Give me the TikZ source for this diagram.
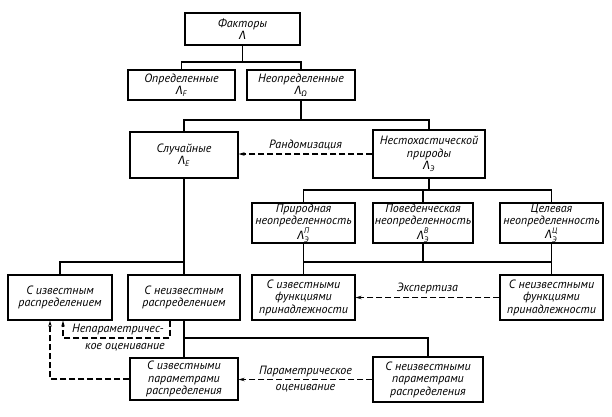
\documentclass[tikz,border=0pt]{standalone}
\usepackage{fontspec}
\usepackage{amsmath}
\setmainfont{PT Sans}
\newfontfamily\grk{Fira Sans}
\usetikzlibrary{arrows.meta}
\newcommand\LamS[1]{$\text{\grk Λ}_{\text{#1}}$}
\newcommand\LamSS[2]{$\text{\grk Λ}_{\text{#1}}^{\text{#2}}$}
\tikzset{
  box/.style={draw, line width=1.1pt, inner sep=0pt, align=center,
    font=\itshape\fontsize{12}{12.5}\selectfont},
  conn/.style={line width=1.1pt},
  dasharr/.style={line width=1.1pt, dash pattern=on 6pt off 3pt,
    -{Stealth[length=6pt,width=3.5pt]}},
  lbl/.style={font=\itshape\fontsize{12}{12.5}\selectfont, inner sep=1pt}
}
\begin{document}
\begin{tikzpicture}[x=1pt,y=-1pt]
\useasboundingbox (0,0) rectangle (612,416);
% boxes
\node[box, minimum width=115pt, minimum height=32pt] (fakt) at (242.5,29) {Факторы\\ \text{\grk Λ}};
\node[box, minimum width=107pt, minimum height=30pt] (opr) at (181.5,85) {Определенные\\ \LamS{F}};
\node[box, minimum width=108pt, minimum height=30pt] (neopr) at (301,85) {Неопределенные\\ \LamS{\grk Ω}};
\node[box, minimum width=108pt, minimum height=46pt] (sluch) at (184,155) {Случайные\\ \LamS{E}};
\node[box, minimum width=112pt, minimum height=48pt] (nestoch) at (429,154) {Нестохастической\\ природы\\ \LamS{Э}};
\node[box, minimum width=103pt, minimum height=40pt] (prir) at (303.5,223) {Природная\\ неопределенность\\ \LamSS{Э}{П}};
\node[box, minimum width=100pt, minimum height=40pt] (poved) at (423,223) {Поведенческая\\ неопределенность\\ \LamSS{Э}{В}};
\node[box, minimum width=103pt, minimum height=40pt] (cel) at (551.5,223) {Целевая\\ неопределенность\\ \LamSS{Э}{Ц}};
\node[box, minimum width=103pt, minimum height=45pt] (izvfun) at (303.5,297.5) {С известными\\ функциями\\ принадлежности};
\node[box, minimum width=103pt, minimum height=45pt] (neizvfun) at (551.5,297.5) {С неизвестными\\ функциями\\ принадлежности};
\node[box, minimum width=104pt, minimum height=45pt] (izvrasp) at (60,297.5) {С известным\\ распределением};
\node[box, minimum width=112pt, minimum height=45pt] (neizvrasp) at (184,297.5) {С неизвестным\\ распределением};
\node[box, minimum width=108pt, minimum height=42pt] (izvpar) at (184,379) {С известными\\ параметрами\\ распределения};
\node[box, minimum width=110pt, minimum height=45pt] (neizvpar) at (428,379.5) {С неизвестными\\ параметрами\\ распределения};
% junctions
\coordinate (j1) at (242.5,62);
\coordinate (j2) at (301,120);
\coordinate (j3) at (429,190);
\coordinate (j4) at (423,262);
\coordinate (j5) at (184,262);
\coordinate (j6) at (184,338);
\coordinate (n1) at (63,338);
% tree connectors
\draw[conn] (fakt.south) -- (j1);
\draw[conn] (opr.north) |- (j1) -| (neopr.north);
\draw[conn] (neopr.south) -- (j2);
\draw[conn] (sluch.north) |- (j2) -| (nestoch.north);
\draw[conn] (nestoch.south) -- (j3);
\draw[conn] (prir.north) |- (j3) -| (cel.north);
\draw[conn] (poved.north) -- (j3 -| poved.north);
\draw[conn] (poved.south) -- (j4);
\draw[conn] (prir.south) -- (izvfun.north);
\draw[conn] (cel.south) -- (neizvfun.north);
\draw[conn] (prir.south |- j4) -- (cel.south |- j4);
\draw[conn] (sluch.south) -- (neizvrasp.north);
\draw[conn] (izvrasp.north) |- (j5);
\draw[conn] (neizvrasp.south) -- (izvpar.north);
\draw[conn] (neizvpar.north) |- (j6);
% dashed arrows
\draw[dasharr] (nestoch.west) -- (nestoch.west -| sluch.east)
  node[lbl, midway, above=2pt] (lr) {Рандомизация};
\draw[dasharr] (neizvfun.west) -- (izvfun.east)
  node[lbl, midway, above=2pt] (le) {Экспертиза};
\draw[dasharr] (neizvpar.west) -- (neizvpar.west -| izvpar.east)
  node[lbl, midway, above=1pt] (lp1) {Параметрическое}
  node[lbl, midway, below=3.5pt] (lp2) {оценивание};
\draw[dasharr] ([xshift=-14pt]neizvrasp.south) |- (n1) -- (n1 |- izvrasp.south);
\draw[dasharr] (izvpar.west) -| ([xshift=-10pt]izvrasp.south);
\node[lbl] (ln1) at (118,329.5) {Непараметричес-};
\node[lbl] (ln2) at (125,347.5) {кое оценивание};
\end{tikzpicture}
\end{document}
